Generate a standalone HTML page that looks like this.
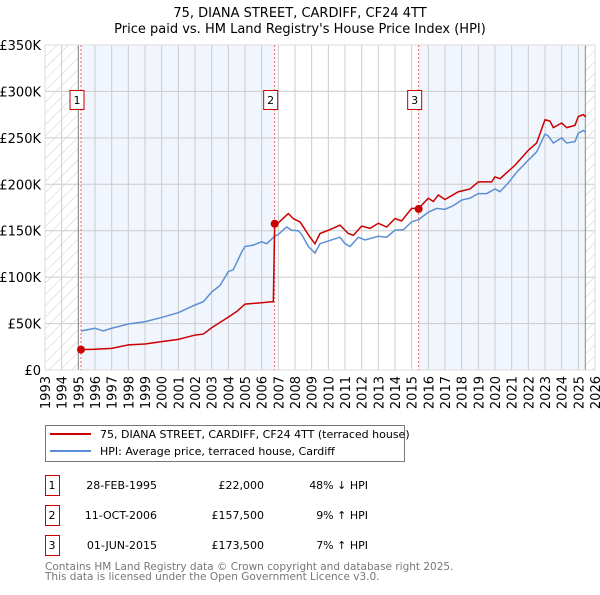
<!DOCTYPE html>
<html><head><meta charset="utf-8"><style>
body{margin:0;background:#fff;font-family:"Liberation Sans","DejaVu Sans",sans-serif;}
svg text{font-family:"DejaVu Sans","Liberation Sans",sans-serif;}
</style></head><body>
<svg id="chart" width="600" height="590">
<defs><pattern id="hatch" width="8" height="8" patternUnits="userSpaceOnUse" patternTransform="rotate(45)"><line x1="0" y1="0" x2="0" y2="8" stroke="#ccc" stroke-width="1"/></pattern></defs>
<text x="300" y="17" text-anchor="middle" font-size="13">75, DIANA STREET, CARDIFF, CF24 4TT</text>
<text x="300" y="33" text-anchor="middle" font-size="13">Price paid vs. HM Land Registry's House Price Index (HPI)</text>
<g id="plot"></g>
<g>
<rect x="45.5" y="425.5" width="359" height="36" fill="#fff" stroke="#777"/>
<line x1="50" y1="434" x2="91" y2="434" stroke="#cc0000" stroke-width="2"/>
<text x="100" y="438" font-size="11">75, DIANA STREET, CARDIFF, CF24 4TT (terraced house)</text>
<line x1="50" y1="451" x2="91" y2="451" stroke="#5b8fd4" stroke-width="2"/>
<text x="100" y="455" font-size="11">HPI: Average price, terraced house, Cardiff</text>
</g>
<g id="table" font-size="11"></g>
<text x="45" y="570" font-size="10.5" fill="#777">Contains HM Land Registry data © Crown copyright and database right 2025.</text>
<text x="45" y="580" font-size="10.5" fill="#777">This data is licensed under the Open Government Licence v3.0.</text>
</svg>
<script>
const hpiYears=[1995.16,1996,1996.5,1997,1998,1999,2000,2001,2002,2002.5,2003,2003.5,2004,2004.3,2004.8,2005,2005.5,2006,2006.3,2006.78,2007,2007.5,2007.8,2008.2,2008.4,2008.8,2009.2,2009.5,2010,2010.7,2011,2011.3,2011.8,2012.2,2013,2013.5,2014,2014.5,2015,2015.42,2016,2016.5,2017,2017.5,2018,2018.5,2019,2019.5,2020,2020.3,2020.8,2021.3,2022,2022.5,2023,2023.2,2023.5,2024,2024.3,2024.8,2025,2025.3,2025.45];
const hpiValues=[42,45,42,45,49.5,52,56.6,61.7,70,73.5,84,91,106,108,127,133,134.5,138,136,144,146,154,150.5,150,146,133,126,136,139,143,136,133,143,140,144,143,150.6,151,159.5,162,170,174,173,177,183,185,190,190,195,192,201.5,213,226,235,254,252,244.5,250,244.5,246,255,258,256];
const propYears=[1995.16,1996,1997,1998,1999,2000,2001,2002,2002.5,2003,2004,2004.5,2005,2006,2006.6,2006.7,2006.78,2007,2007.6,2007.9,2008.3,2008.9,2009.2,2009.5,2010,2010.7,2011.2,2011.5,2012,2012.5,2013,2013.5,2014,2014.4,2015,2015.42,2016,2016.3,2016.6,2017,2017.8,2018.5,2019,2019.8,2020,2020.3,2021.2,2022,2022.5,2023,2023.3,2023.5,2024,2024.3,2024.8,2025,2025.3,2025.45];
const propValues=[22,22.3,23.3,27,28,30.5,33,37.6,38.7,45.5,57,63,71,72.4,73.5,73.5,157.5,158.5,168.5,163,159.5,143,136,147,150.5,156,147,145,155,152.5,158,154,163,160.6,174,174,185,181.5,188.5,183.6,192,195,202.6,202.6,208,206,220.5,236.6,244.5,269.6,268,261,266,261,263.5,273,275,272.5];
const saleYears=[1995.16,2006.78,2015.42];
const saleValues=[22,157.5,173.5];
const saleDates=["28-FEB-1995","11-OCT-2006","01-JUN-2015"];
const salePrices=["£22,000","£157,500","£173,500"];
const saleHpi=["48% ↓ HPI","9% ↑ HPI","7% ↑ HPI"];
const yTicks=[0,50,100,150,200,250,300,350];
const yTickLabels=["£0","£50K","£100K","£150K","£200K","£250K","£300K","£350K"];
const xStart=1993,xEnd=2026,dataEnd=2025.42;

const L=45,R=595,T=45,B=370,NS="http://www.w3.org/2000/svg";
const X=y=>L+(y-xStart)/(xEnd-xStart)*(R-L);
const Y=v=>B-v/350*(B-T);
const g=document.getElementById('plot');
function mk(tag,at,parent){const e=document.createElementNS(NS,tag);for(const k in at)e.setAttribute(k,at[k]);(parent||g).appendChild(e);return e;}
let e;
e=mk('rect',{x:X(saleYears[0]),y:T,width:X(saleYears[1])-X(saleYears[0]),height:B-T,fill:'#eef3fd',opacity:0.8});


e=mk('rect',{x:X(saleYears[2]),y:T,width:X(dataEnd)-X(saleYears[2]),height:B-T,fill:'#eef3fd',opacity:0.8});


e=mk('rect',{x:L,y:T,width:X(1995)-L,height:B-T,fill:'url(#hatch)'});


e=mk('rect',{x:X(dataEnd),y:T,width:R-X(dataEnd),height:B-T,fill:'url(#hatch)'});


for(let yr=xStart;yr<=xEnd;yr++){
 e=mk('line',{x1:X(yr),x2:X(yr),y1:T,y2:B,stroke:'#ccc','stroke-width':1});
 
 
 e=mk('text',{x:0,y:0,'font-size':13,'text-anchor':'end',transform:`translate(${X(yr)+5},376) rotate(-90)`});
 e.textContent=yr;
 
 
}
yTicks.forEach((v,i)=>{
 e=mk('line',{x1:L,x2:R,y1:Y(v),y2:Y(v),stroke:'#ccc','stroke-width':1});
 
 
 e=mk('text',{x:L-4,y:Y(v)+5,'font-size':13,'text-anchor':'end'});
 e.textContent=yTickLabels[i];
 
 
});
e=mk('line',{x1:X(1995),x2:X(1995),y1:T,y2:B,stroke:'#888'});


e=mk('line',{x1:X(dataEnd),x2:X(dataEnd),y1:T,y2:B,stroke:'#888'});


e=mk('rect',{x:L,y:T,width:R-L,height:B-T,fill:'none',stroke:'#ddd'});


saleYears.forEach((yr,i)=>{
 e=mk('line',{x1:X(yr),x2:X(yr),y1:T,y2:B,stroke:'#f06060','stroke-dasharray':'2,2'});
 
 
 e=mk('rect',{x:X(yr)-11,y:90.5,width:14,height:19,fill:'#fff',stroke:'#cc0000'});
 
 
 e=mk('text',{x:X(yr)-4,y:104,'font-size':11,'text-anchor':'middle'});
 e.textContent=i+1;
 
 
});
e=mk('polyline',{points:hpiYears.map((y,i)=>X(y)+','+Y(hpiValues[i])).join(' '),fill:'none',stroke:'#5b8fd4','stroke-width':1.5});


e=mk('polyline',{points:propYears.map((y,i)=>X(y)+','+Y(propValues[i])).join(' '),fill:'none',stroke:'#cc0000','stroke-width':1.5});


saleYears.forEach((yr,i)=>{
 e=mk('circle',{cx:X(yr),cy:Y(saleValues[i]),r:4,fill:'#cc0000'});
 
 
});
const tb=document.getElementById('table');
saleYears.forEach((yr,i)=>{
 const y0=475+i*30;
 e=mk('rect',{x:45.5,y:y0+0.5,width:14,height:20,fill:'#fff',stroke:'#cc0000'},tb);
 
 
 e=mk('text',{x:52,y:y0+14,'text-anchor':'middle'},tb);e.textContent=i+1;
 
 
 e=mk('text',{x:157,y:y0+14,'text-anchor':'end'},tb);e.textContent=saleDates[i];
 
 
 e=mk('text',{x:264,y:y0+14,'text-anchor':'end'},tb);e.textContent=salePrices[i];
 
 
 e=mk('text',{x:368,y:y0+14,'text-anchor':'end'},tb);e.textContent=saleHpi[i];
 
 
});
</script>
</body></html>
